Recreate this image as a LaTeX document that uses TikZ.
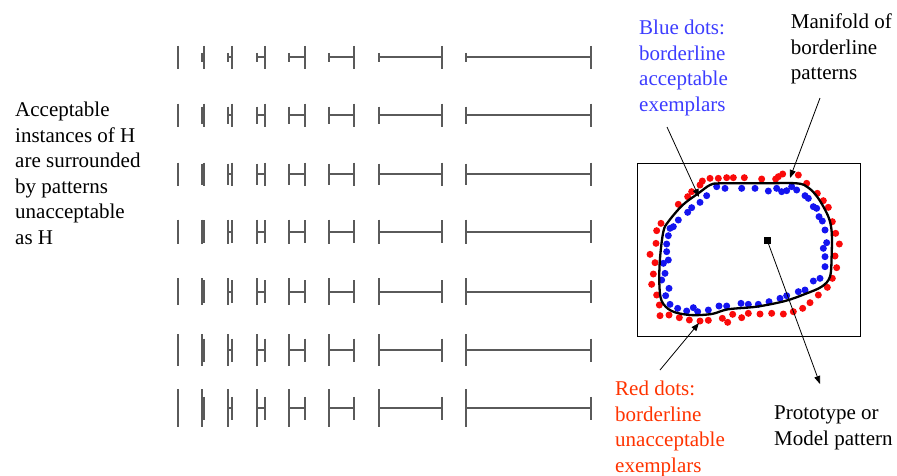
\documentclass[tikz,border=0pt]{standalone}
\usepackage{fontspec}
\setmainfont{Liberation Serif}
\usetikzlibrary{arrows.meta}
\definecolor{hgray}{RGB}{90,90,90}
\definecolor{dotred}{RGB}{250,10,10}
\definecolor{dotblue}{RGB}{20,20,240}
\definecolor{txtblue}{RGB}{60,60,255}
\definecolor{txtred}{RGB}{255,51,0}
\tikzset{
  lbl/.style={font=\fontsize{21}{25.5}\selectfont, align=left, inner sep=0pt, anchor=north west},
  vbar/.style={draw=hgray, line width=2.1pt},
  hbar/.style={draw=hgray, line width=1.7pt},
  manifold/.style={draw=black, line width=2.3pt},
  pointer/.style={draw=black, line width=0.8pt, -{Triangle[length=8pt,width=6pt]}},
  protobox/.style={fill=black, inner sep=0pt, minimum size=7pt},
}
\begin{document}
\begin{tikzpicture}[x=1pt,y=-1pt]
\useasboundingbox (0,0) rectangle (897,475);
% H patterns
\foreach \yy/\hl in {57.3/9, 115/17, 174/21, 231.7/24, 291.7/27, 350/32, 408.3/38} {
  \foreach \xl/\xr in {178/178, 202.3/203.8, 227.7/232.3, 256.7/265.3, 288.7/305, 329/354.3, 379/441.7, 465.7/590.7} {
    \draw[hbar] (\xl,\yy) -- (\xr,\yy);
    \draw[vbar] (\xl,\yy-\hl/2) -- (\xl,\yy+\hl/2);
    \draw[vbar] (\xr,\yy-11.5) -- (\xr,\yy+11.5);
  }
}
% left text
\node[lbl] (leftlbl) at (15,102) {Acceptable\\instances of H\\are surrounded\\by patterns\\unacceptable\\as H};
% right panel box
\draw[line width=1pt] (637,163) rectangle (860,336);
\begin{scope}[shift={(630,150)}, scale=1/3]
  \foreach \p in {(210,105),(217,93),(240,85),(265,85),(290,83),(310,83),(343,83),(395,87),(437,87),(445,80),(458,72),(505,75),(530,100),(562,130),(580,152),(595,172),(607,215),(617,250),(628,282),(615,318),(620,353),(607,385),(592,412),(565,435),(540,458),(518,475),(490,485),(460,492),(425,490),(390,492),(355,490),(335,503),(308,493),(293,517),(277,505),(235,511),(210,513),(178,510),(148,503),(117,495),(90,497),(88,465),(80,435),(65,403),(70,372),(75,338),(60,313),(78,280),(80,242),(93,220),(145,163),(173,140),(185,125)}
    \fill[dotred] \p circle[radius=10.5];
  \foreach \p in {(260,110),(285,115),(335,115),(375,115),(415,123),(440,115),(455,125),(470,122),(485,110),(500,120),(525,137),(535,145),(550,170),(560,175),(567,200),(577,213),(585,240),(590,278),(580,295),(585,320),(585,350),(570,385),(550,393),(525,420),(505,425),(470,437),(450,445),(417,455),(385,463),(355,463),(333,460),(290,468),(267,468),(235,480),(203,485),(190,473),(170,483),(143,475),(120,463),(107,437),(117,415),(95,390),(105,370),(100,340),(115,330),(110,305),(110,282),(115,257),(120,235),(130,230),(145,210),(173,187),(185,173),(210,157),(230,137)}
    \fill[dotblue] \p circle[radius=10.5];
  \draw[manifold] plot[smooth cycle, tension=0.55] coordinates {(270,100) (390,100) (500,100) (535,113) (565,145) (595,200) (605,245) (605,315) (600,380) (575,410) (525,432) (465,453) (380,470) (293,478) (245,492) (180,495) (125,483) (95,453) (88,400) (90,325) (100,245) (115,215) (158,165) (205,130) (240,105)};
  \node[protobox] (proto) at (412,272) {};
\end{scope}
% labels
\node[lbl, text=txtblue] (bluelbl) at (639,20) {Blue dots:\\borderline\\acceptable\\exemplars};
\node[lbl] (manlbl) at (790.7,14) {Manifold of\\borderline\\patterns};
\node[lbl, text=txtred] (redlbl) at (615,381) {Red dots:\\borderline\\unacceptable\\exemplars};
\node[lbl] (protolbl) at (774,406) {Prototype or\\Model pattern};
% arrows
\coordinate (bluefrom) at (667,127);
\coordinate (blueto) at (699,197);
\coordinate (manfrom) at (820,98);
\coordinate (manto) at (790,178);
\coordinate (redfrom) at (660,370);
\coordinate (redto) at (699,323);
\coordinate (prototo) at (820,384);
\draw[pointer] (bluefrom) -- (blueto);
\draw[pointer] (manfrom) -- (manto);
\draw[pointer] (redfrom) -- (redto);
\draw[pointer] (proto.center) -- (prototo);
\end{tikzpicture}
\end{document}
